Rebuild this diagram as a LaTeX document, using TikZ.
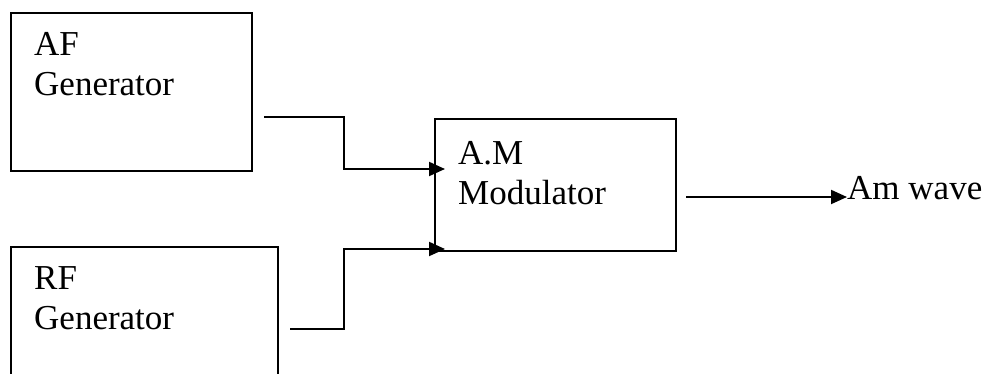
\documentclass[tikz,border=0pt]{standalone}
\usepackage{fontspec}
\setmainfont{Liberation Serif}
\usetikzlibrary{arrows.meta}
\tikzset{
  blk/.style={draw, line width=2pt, inner sep=0pt},
  lbl/.style={align=left, inner sep=0pt, anchor=north west, font=\fontsize{35pt}{40pt}\selectfont},
  conn/.style={line width=2pt, -{Triangle[length=16pt,width=14pt]}}
}
\begin{document}
\begin{tikzpicture}[x=1pt,y=-1pt]
\clip (0,0) rectangle (989,374);
% blocks
\node[blk, minimum width=241pt, minimum height=158pt] (af) at (131.5,92) {};
\node[blk, minimum width=267pt, minimum height=200pt] (rf) at (144.5,347) {};
\node[blk, minimum width=241pt, minimum height=132pt] (mod) at (555.5,185) {};
\node[lbl] (aftxt) at ([xshift=24pt,yshift=-20pt]af.north west) {AF\\Generator};
\node[lbl] (rftxt) at ([xshift=24pt,yshift=-20pt]rf.north west) {RF\\Generator};
\node[lbl] (modtxt) at ([xshift=24pt,yshift=-23pt]mod.north west) {A.M\\Modulator};
\node[lbl, anchor=base west] (wave) at (847,200) {Am wave};
% connectors
\coordinate (afo) at ([xshift=11pt,yshift=-25pt]af.east);
\coordinate (rfo) at ([xshift=11pt,yshift=18pt]rf.east);
\coordinate (modA) at ([xshift=11pt,yshift=16pt]mod.west);
\coordinate (modB) at ([xshift=11pt,yshift=-64pt]mod.west);
\coordinate (outs) at ([xshift=9pt,yshift=-12pt]mod.east);
\draw[conn] (afo) -- ++(80,0) |- (modA);
\draw[conn] (rfo) -- ++(54,0) |- (modB);
\draw[conn] (outs) -- (outs -| wave.west);
\end{tikzpicture}
\end{document}
